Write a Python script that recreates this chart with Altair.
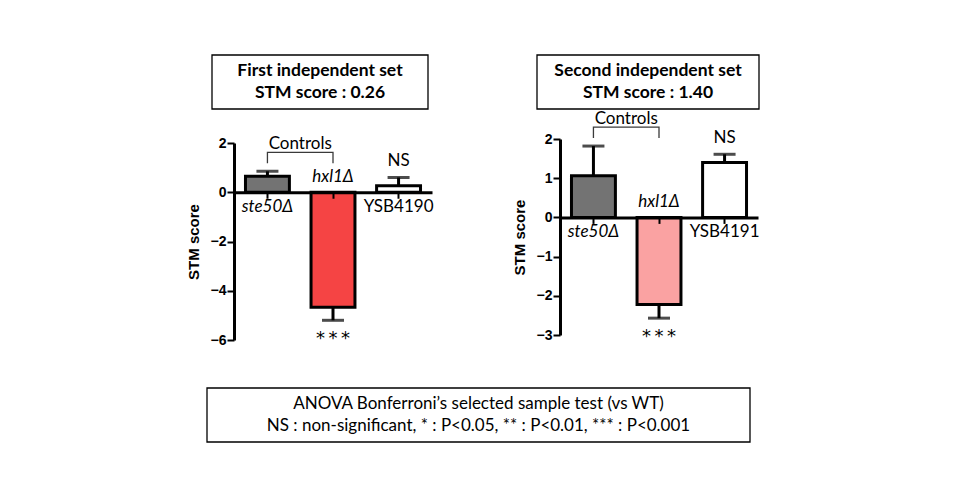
import altair as alt
import pandas as pd
import numpy as np

# ---- data ----
strains_1 = ["ste50Δ", "hxl1Δ", "YSB4190"]
means_1 = [0.65, -4.67, 0.26]
errs_1 = [0.20, 0.53, 0.34]
sig_1 = ["", "***", "NS"]

strains_2 = ["ste50Δ", "hxl1Δ", "YSB4191"]
means_2 = [1.06, -2.22, 1.40]
errs_2 = [0.76, 0.35, 0.21]
sig_2 = ["", "***", "NS"]

controls = ["ste50Δ", "hxl1Δ"]
titles_1 = ["First independent set", "STM score : 0.26"]
titles_2 = ["Second independent set", "STM score : 1.40"]
yticks_1 = [-6, -4, -2, 0, 2]
yticks_2 = [-3, -2, -1, 0, 1, 2]
footnote = ["ANOVA Bonferroni’s selected sample test (vs WT)",
            "NS : non-significant, * : P<0.05, ** : P<0.01, *** : P<0.001"]

fills_1 = ["#737373", "#F54444", "#FFFFFF"]
fills_2 = ["#737373", "#FAA2A2", "#FFFFFF"]

# ---- layout ----
W = 198
PAD_IN, PAD_OUT = 0.33, 0.175
STEP = W / (3 - PAD_IN + 2 * PAD_OUT)
LABEL_FONT = "Lato"
AX_FONT = "Liberation Sans"
FS = 17
ORIGIN_X, ORIGIN_Y = 226, 131      # left panel plot origin inside the svg
TOTAL_W, TOTAL_H = 944, 484


def panel(strains, means, errs, sig, fills, ydom, yticks, height, yrange,
          titles, tbox, extra=None):
    df = pd.DataFrame({"strain": strains, "mean": means, "err": errs, "sig": sig})
    df["end"] = df["mean"] + np.sign(df["mean"]) * df["err"]
    df["deletion"] = df["strain"].str.endswith("Δ")
    df["sigdisp"] = df["sig"].map(lambda s: "\u2009".join(s) if "*" in s else s)

    ppu = (yrange[0] - yrange[1]) / (ydom[1] - ydom[0])
    zero_px = yrange[1] + ydom[1] * ppu
    xoff = -(height - zero_px)

    xscale = alt.Scale(domain=strains, paddingInner=PAD_IN, paddingOuter=PAD_OUT)
    yscale = alt.Scale(domain=ydom, range=yrange, nice=False, zero=False)
    xaxis = alt.Axis(labels=False, ticks=True, tickSize=6, tickWidth=2,
                     tickColor="black", domainWidth=3, domainColor="black",
                     offset=xoff, zindex=1, grid=False, title=None)
    yaxis = alt.Axis(values=yticks, tickCount=20, format="d",
                     domainWidth=3, domainColor="black",
                     tickWidth=2, tickSize=7, tickColor="black",
                     labelFont=AX_FONT, labelFontWeight="bold", labelFontSize=14,
                     labelColor="black", labelPadding=1, labelOverlap=False,
                     labelBound=False,
                     titleFont=AX_FONT, titleFontSize=15, titleFontWeight="bold",
                     titleColor="black", titlePadding=9, grid=False)
    X = alt.X("strain:N", scale=xscale, axis=xaxis, title=None)

    def Y(field):
        return alt.Y(field, scale=yscale, axis=yaxis, title="STM score")

    base = alt.Chart(df)
    bars = base.mark_bar(stroke="black", strokeWidth=3).encode(
        x=X, y=Y("mean:Q"),
        fill=alt.Fill("strain:N", scale=alt.Scale(domain=strains, range=fills),
                      legend=None))
    errbar = base.mark_rule(color="black", strokeWidth=3).encode(
        x=X, y=Y("mean:Q"), y2="end:Q")
    cap = base.mark_tick(color="black", size=22, thickness=3).encode(
        x=X, y=Y("end:Q"))

    def lab(flt, style, dy):
        return base.transform_filter(flt).mark_text(
            font=LABEL_FONT, fontSize=FS, fontStyle=style, color="black",
            baseline="middle", dy=dy).encode(
            x=X, y=alt.datum(0), text="strain:N")

    lab1 = lab("datum.mean >= 0 && datum.deletion", "italic", 15)
    lab2 = lab("datum.mean < 0 && datum.deletion", "italic", -15)
    lab3 = lab("datum.mean >= 0 && !datum.deletion", "normal", 15)

    sig_up = base.transform_filter("datum.mean >= 0").mark_text(
        font=LABEL_FONT, fontSize=FS, color="black", baseline="middle", dy=-16).encode(
        x=X, y=Y("end:Q"), text="sigdisp:N")
    sig_dn = base.transform_filter("datum.mean < 0").mark_text(
        font="DejaVu Sans", fontSize=18, color="black", baseline="middle", dy=19).encode(
        x=X, y=Y("end:Q"), text="sigdisp:N")

    # bracket over the controls
    cdf = df[df["strain"].isin(controls)]
    top_val = float(max(cdf["mean"].max(), cdf["end"].max()))
    low = top_val + 8 / ppu
    high = top_val + 19 / ppu
    br = pd.DataFrame({"strain": [controls[0], controls[0], controls[1], controls[1]],
                       "yv": [low, high, high, low], "i": [0, 1, 2, 3]})
    bracket = alt.Chart(br).mark_line(color="#3a3a3a", strokeWidth=1.3).encode(
        x=X, y=Y("yv:Q"), order="i:O")
    ctxt = alt.Chart(pd.DataFrame({"strain": [controls[0]], "yv": [high], "t": ["Controls"]})
                     ).mark_text(font=LABEL_FONT, fontSize=FS, color="black",
                                 baseline="middle", dx=STEP / 2, dy=-8).encode(
        x=X, y=Y("yv:Q"), text="t:N")

    one = pd.DataFrame({"k": [0]})
    bx0, bx1, by0, by1 = tbox
    box = alt.Chart(one).mark_rect(fill="white", stroke="black", strokeWidth=1.3).encode(
        x=alt.value(bx0), x2=alt.value(bx1), y=alt.value(by0), y2=alt.value(by1))
    cx = (bx0 + bx1) / 2
    t1 = alt.Chart(one).mark_text(text=titles[0], font=LABEL_FONT, fontSize=17.5,
                                  fontWeight="bold", color="black", baseline="middle"
                                  ).encode(x=alt.value(cx), y=alt.value(by0 + 16))
    t2 = alt.Chart(one).mark_text(text=titles[1], font=LABEL_FONT, fontSize=17.5,
                                  fontWeight="bold", color="black", baseline="middle"
                                  ).encode(x=alt.value(cx), y=alt.value(by0 + 38))

    layers = [bars, errbar, cap, lab1, lab2, lab3, sig_up, sig_dn, bracket, ctxt, box, t1, t2]
    if extra:
        layers += extra
    return alt.layer(*layers).properties(width=W, height=height)


one = pd.DataFrame({"k": [0]})
# invisible frame fixing the page extent (so the plot origin sits where the reference has it)
frame = alt.Chart(one).mark_rect(opacity=0).encode(
    x=alt.value(-ORIGIN_X), x2=alt.value(TOTAL_W - ORIGIN_X),
    y=alt.value(-ORIGIN_Y), y2=alt.value(TOTAL_H - ORIGIN_Y))
# footnote box (attached to the left panel, in pixel space)
fb = alt.Chart(one).mark_rect(fill="white", stroke="black", strokeWidth=1.3).encode(
    x=alt.value(-27), x2=alt.value(516), y=alt.value(249), y2=alt.value(303))
f1 = alt.Chart(one).mark_text(text=footnote[0], font=LABEL_FONT, fontSize=17,
                              color="black", baseline="middle").encode(
    x=alt.value(244.5), y=alt.value(265))
f2 = alt.Chart(one).mark_text(text=footnote[1], font=LABEL_FONT, fontSize=17,
                              color="black", baseline="middle").encode(
    x=alt.value(244.5), y=alt.value(287))

left = panel(strains_1, means_1, errs_1, sig_1, fills_1, [-6, 2], yticks_1, 201,
             [201, 4], titles_1, (-22, 194, -84, -30), extra=[frame, fb, f1, f2])
right = panel(strains_2, means_2, errs_2, sig_2, fills_2, [-3, 2], yticks_2, 196,
              [196, 0], titles_2, (-23, 199, -84, -30))

chart = alt.hconcat(left, right, spacing=128, bounds="flush").resolve_scale(
    x="independent", y="independent", fill="independent"
).resolve_axis(x="independent", y="independent").properties(
    padding=0,
).configure_view(stroke=None).configure_axisY(labelOverlap=False)

chart.save("out.html", embed_options={"renderer": "svg", "actions": False})
